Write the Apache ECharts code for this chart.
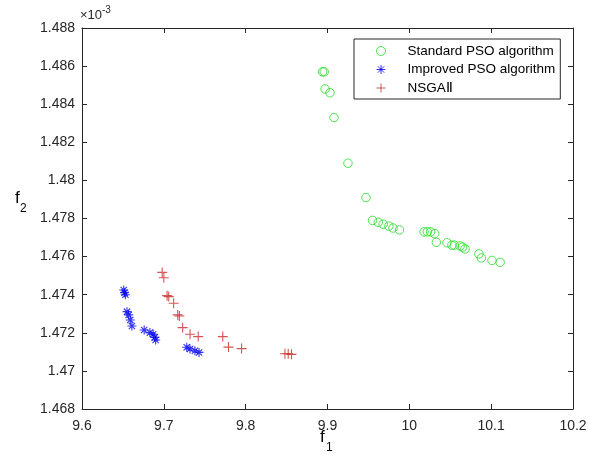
<!DOCTYPE html>
<html>
<head>
<meta charset="utf-8">
<script src="https://cdn.jsdelivr.net/npm/echarts@6/dist/echarts.min.js"></script>
<style>
  html, body { margin: 0; padding: 0; background: #fff; }
  #chart { width: 598px; height: 466px; }
</style>
</head>
<body>
<div id="chart"></div>
<script>
// values, f2 in units of 1e-3
var stdX = [9.894, 9.896, 9.897, 9.903, 9.908, 9.925, 9.947, 9.955, 9.962, 9.968, 9.975, 9.980, 9.988,
            10.018, 10.022, 10.026, 10.031, 10.033, 10.046, 10.052, 10.055, 10.062, 10.065, 10.068,
            10.085, 10.088, 10.101, 10.111];
var stdY = [1.4857, 1.4857, 1.4848, 1.4846, 1.4833, 1.4809, 1.4791, 1.4779, 1.4778, 1.4777, 1.4776, 1.4775, 1.4774,
            1.4773, 1.4773, 1.4773, 1.4772, 1.47675, 1.47673, 1.4766, 1.4766, 1.47656, 1.4765, 1.4764,
            1.47614, 1.47593, 1.4758, 1.4757];

var impX = [9.651, 9.652, 9.653, 9.655, 9.657, 9.659, 9.661, 9.676, 9.683, 9.687, 9.689, 9.690,
            9.728, 9.732, 9.738, 9.743];
var impY = [1.47425, 1.4741, 1.4740, 1.47311, 1.47294, 1.47267, 1.47236, 1.47215, 1.47201, 1.47192, 1.47176, 1.47162,
            1.47124, 1.47115, 1.47106, 1.47097];

var nsgaX = [9.698, 9.700, 9.704, 9.706, 9.712, 9.717, 9.719, 9.723, 9.732, 9.742, 9.772, 9.779, 9.795,
             9.848, 9.852, 9.856];
var nsgaY = [1.47517, 1.47489, 1.47395, 1.4739, 1.47355, 1.47294, 1.47288, 1.47227, 1.47192, 1.4718, 1.4718, 1.47125, 1.47117,
             1.4709, 1.4709, 1.47087];

var names = ['Standard PSO algorithm', 'Improved PSO algorithm', 'NSGA\u2161'];

function pairs(xs, ys) {
  var out = [];
  for (var i = 0; i < xs.length; i++) out.push([xs[i], ys[i]]);
  return out;
}

var axisCol = '#262626';
var font = 'Liberation Sans, Arial, sans-serif';
var starPath = 'path://M5,0L5,10M0,5L10,5M1.5,1.5L8.5,8.5M1.5,8.5L8.5,1.5';
var plusPath = 'path://M5,0L5,10M0,5L10,5';

var chart = echarts.init(document.getElementById('chart'));

var xBase = {
  type: 'value', min: 9.6, max: 10.2, interval: 0.1,
  axisLine: { show: true, onZero: false, lineStyle: { color: axisCol, width: 1 } },
  axisTick: { show: true, inside: true, length: 5, lineStyle: { color: axisCol } },
  splitLine: { show: false }
};
var yBase = {
  type: 'value', min: 1.468, max: 1.488, interval: 0.002,
  axisLine: { show: true, onZero: false, lineStyle: { color: axisCol, width: 1 } },
  axisTick: { show: true, inside: true, length: 5, lineStyle: { color: axisCol } },
  splitLine: { show: false }
};

var legendIcons = [
  { sym: 'circle', col: '#22dd22' },
  { sym: starPath, col: '#0000ee' },
  { sym: plusPath, col: '#cc2a2a' }
];

var option = {
  animation: false,
  backgroundColor: '#fff',
  grid: { left: 82, right: 25, top: 28, bottom: 57 },
  xAxis: [
    Object.assign({}, xBase, {
      position: 'bottom',
      axisLabel: { color: axisCol, fontSize: 14, fontFamily: font, margin: 10 }
    }),
    Object.assign({}, xBase, { position: 'top', axisLabel: { show: false } })
  ],
  yAxis: [
    Object.assign({}, yBase, {
      position: 'left',
      axisLabel: { color: axisCol, fontSize: 14, fontFamily: font, margin: 7,
        formatter: function (v) { return String(Math.round(v * 1000) / 1000); } }
    }),
    Object.assign({}, yBase, { position: 'right', axisLabel: { show: false } })
  ],
  legend: {
    orient: 'vertical',
    left: 354, top: 39,
    padding: [4, 5, 3, 22],
    itemWidth: 43, itemHeight: 9,
    itemGap: 2.5,
    borderColor: axisCol, borderWidth: 1, borderRadius: 0,
    backgroundColor: '#fff',
    textStyle: { color: '#000', fontSize: 13.5, fontFamily: font, lineHeight: 16 },
    data: names.map(function (n, i) {
      return { name: n, icon: legendIcons[i].sym,
        itemStyle: { color: 'rgba(0,0,0,0)', borderColor: legendIcons[i].col, borderWidth: 1 } };
    })
  },
  graphic: [
    { type: 'text', left: 80, top: 9, style: { text: '\u00d710', fontSize: 13, fontFamily: font, fill: axisCol } },
    { type: 'text', left: 102, top: 5, style: { text: '-3', fontSize: 10, fontFamily: font, fill: axisCol } },
    { type: 'text', left: 15, top: 190, style: { text: 'f', fontSize: 17, fontFamily: font, fill: '#000' } },
    { type: 'text', left: 20, top: 203, style: { text: '2', fontSize: 12, fontFamily: font, fill: '#000' } },
    { type: 'text', left: 320, top: 429, style: { text: 'f', fontSize: 17, fontFamily: font, fill: '#000' } },
    { type: 'text', left: 326, top: 442, style: { text: '1', fontSize: 12, fontFamily: font, fill: '#000' } }
  ],
  series: [
    {
      name: names[0], type: 'scatter', symbol: 'circle', symbolSize: 8.5,
      itemStyle: { color: 'rgba(0,0,0,0)', borderColor: '#22dd22', borderWidth: 1 },
      data: pairs(stdX, stdY)
    },
    {
      name: names[1], type: 'scatter', symbol: starPath, symbolSize: 9,
      itemStyle: { color: 'rgba(0,0,0,0)', borderColor: '#0000ee', borderWidth: 1.1 },
      data: pairs(impX, impY)
    },
    {
      name: names[2], type: 'scatter', symbol: plusPath, symbolSize: 10,
      itemStyle: { color: 'rgba(0,0,0,0)', borderColor: '#cc2a2a', borderWidth: 1.1 },
      data: pairs(nsgaX, nsgaY)
    }
  ]
};

chart.setOption(option);
</script>
</body>
</html>
